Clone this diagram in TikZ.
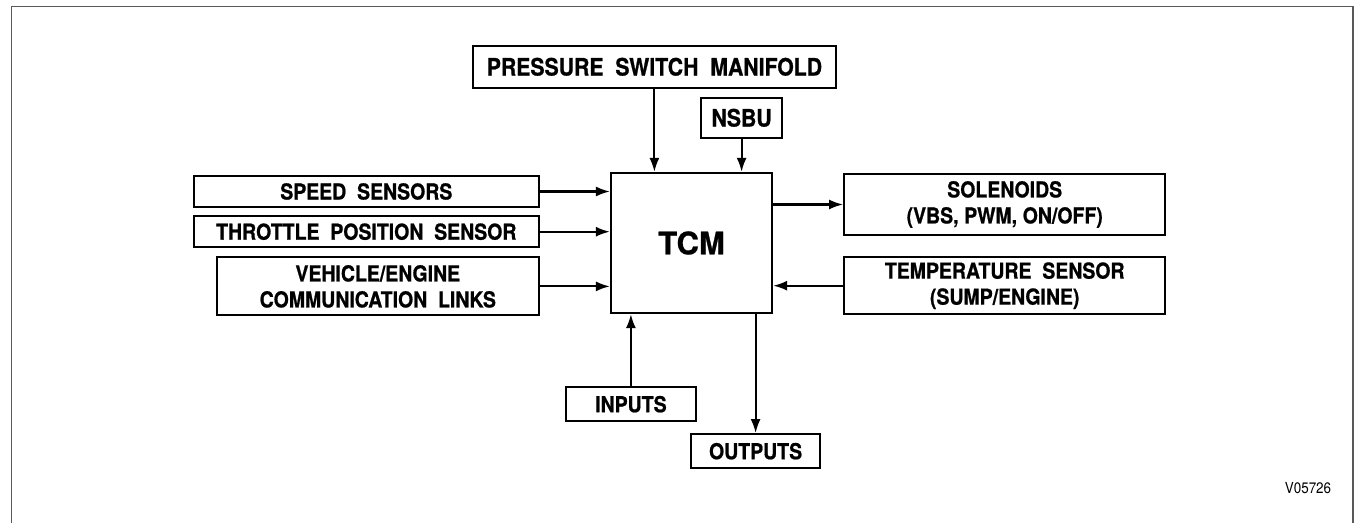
\documentclass[tikz,border=0pt]{standalone}
\usepackage{fontspec}
\setmainfont{TeX Gyre Heros}[BoldFeatures={FakeBold=0.8}]
\newfontfamily\boxfont{TeX Gyre Heros}[FakeStretch=0.885, WordSpace=2, BoldFeatures={FakeBold=0.8}]
\usepackage{tikz}
\usetikzlibrary{arrows.meta, positioning}

\begin{document}
\begin{tikzpicture}[x=0.5pt, y=-0.5pt,
    box/.style={rectangle, draw, line width=1.1pt, inner sep=0pt, align=center,
        font=\boxfont\bfseries\fontsize{11pt}{13pt}\selectfont},
    bigbox/.style={box, font=\boxfont\bfseries\fontsize{12pt}{14pt}\selectfont},
    arr/.style={-{Latex[length=7pt, width=5pt]}, line width=1.05pt}]
    \useasboundingbox (0,0) rectangle (1358,523);
    \draw [line width=0.8pt, black!65] (11.5,523) |- (1353,6.5) -- (1353,523);

    \node (tcm) [box, minimum width=80.5pt, minimum height=70pt, font=\bfseries\fontsize{15.5pt}{17pt}\selectfont] at (691.5,243) {TCM};

    \node (speed) [box, minimum width=172.5pt, minimum height=15.5pt, left=35pt of tcm.north west, anchor=north east, yshift=-1.5pt] {SPEED SENSORS};
    \node (throttle) [box, minimum width=172.5pt, minimum height=15.5pt, below=3.5pt of speed] {THROTTLE POSITION SENSOR};
    \node (vlinks) [box, minimum width=161pt, minimum height=29pt, below=4pt of throttle.south east, anchor=north east] {VEHICLE/ENGINE\\COMMUNICATION LINKS};

    \node (psm) [bigbox, minimum width=181.5pt, minimum height=21pt, above=41.5pt of tcm.north west, anchor=south, xshift=22.25pt] {PRESSURE SWITCH MANIFOLD};
    \node (nsbu) [bigbox, minimum width=40.5pt, minimum height=20pt, above=16.5pt of tcm.north east, anchor=south, xshift=-15.75pt] {NSBU};

    \node (sol) [box, minimum width=160.5pt, minimum height=30.5pt, right=35pt of tcm.north east, anchor=north west, yshift=-0.5pt] {SOLENOIDS\\(VBS,\hspace{2.8pt}PWM,\hspace{2.8pt}ON/OFF)};
    \node (temp) [box, minimum width=160.5pt, minimum height=28.5pt, below=10pt of sol] {TEMPERATURE SENSOR\\(SUMP/ENGINE)};

    \node (inp) [box, minimum width=65pt, minimum height=17pt, below=36pt of tcm.south west, anchor=north, xshift=10.5pt] {INPUTS};
    \node (outp) [box, minimum width=64.5pt, minimum height=17pt, below=59.5pt of tcm.south east, anchor=north, xshift=-8.75pt] {OUTPUTS};

    \node (ref) [font=\boxfont\fontsize{7.6pt}{9pt}\selectfont] at (1308,488) {V05726};

    \draw [arr] (speed.east) -- (speed.east -| tcm.west);
    \draw [arr] (throttle.east) -- (throttle.east -| tcm.west);
    \draw [arr] (vlinks.east) -- (vlinks.east -| tcm.west);
    \draw [arr] (psm.south) -- (psm.south |- tcm.north);
    \draw [arr] (nsbu.south) -- (nsbu.south |- tcm.north);
    \draw [arr] (sol.west -| tcm.east) -- (sol.west);
    \draw [arr] (temp.west) -- (temp.west -| tcm.east);
    \draw [arr] (inp.north) -- (inp.north |- tcm.south);
    \draw [arr] (outp.north |- tcm.south) -- (outp.north);
\end{tikzpicture}
\end{document}
